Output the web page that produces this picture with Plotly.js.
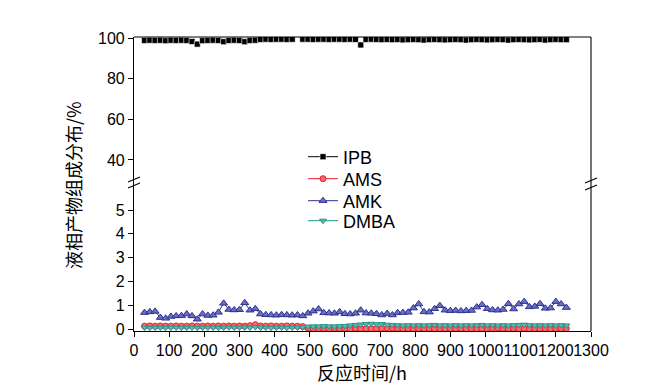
<!DOCTYPE html>
<html>
<head>
<meta charset="utf-8">
<script src="https://cdn.plot.ly/plotly-3.0.1.min.js"></script>
<style>html,body{margin:0;padding:0;background:#fff;}#chart{width:663px;height:389px;}</style>
</head>
<body>
<div id="chart"></div>
<script>
// Reaction time (h)
const timeH = [30,45,60,75,90,105,120,135,150,165,180,195,210,225,240,255,270,285,300,315,
  330,345,360,375,390,405,420,435,450,465,480,495,510,525,540,555,570,585,600,615,
  630,645,660,675,690,705,720,735,750,765,780,795,810,825,840,855,870,885,900,915,
  930,945,960,975,990,1005,1020,1035,1050,1065,1080,1095,1110,1125,1140,1155,1170,1185,1200,1215,1230];

const ipb = [98.8,98.9,98.8,98.9,98.7,98.9,98.8,98.9,98.8,98.3,97.0,98.7,98.8,98.9,98.8,98.2,98.8,98.9,98.8,98.2,
  98.8,98.9,99.3,99.4,99.3,99.4,99.4,99.3,99.4,null,99.4,99.4,99.3,99.4,99.4,99.3,99.4,99.4,99.3,99.4,
  99.3,96.6,99.3,99.4,99.3,99.2,99.3,99.2,99.3,99.1,99.2,99.3,99.2,99.0,99.2,99.3,99.2,99.1,99.2,99.3,
  99.2,99.0,99.2,99.3,99.2,99.1,99.2,99.3,99.2,99.0,99.2,99.3,99.2,99.1,99.2,99.3,99.0,99.2,99.3,99.2,99.2];

const ams = [0.12,0.13,0.12,0.13,0.12,0.12,0.13,0.12,0.12,0.13,0.12,0.12,0.13,0.12,0.13,0.12,0.13,0.12,0.13,0.12,
  0.14,0.18,0.13,0.12,0.13,0.12,0.12,0.13,0.12,0.12,0.10,0.03,0.02,0.01,0.02,0.01,0.02,0.01,0.02,0.01,
  0.02,0.01,0.02,0.01,0.02,0.03,0.04,0.04,0.02,0.01,0.02,0.01,0.02,0.01,0.02,0.01,0.02,0.01,0.02,0.01,
  0.02,0.01,0.02,0.01,0.02,0.01,0.03,0.04,0.02,0.01,0.02,0.01,0.02,0.01,0.02,0.01,0.02,0.01,0.02,0.01,0.02];

const amk = [0.69,0.72,0.74,0.48,0.45,0.53,0.55,0.56,0.63,0.55,0.41,0.63,0.57,0.58,0.70,1.08,0.82,0.80,0.81,1.10,
  0.79,0.85,0.63,0.60,0.59,0.58,0.60,0.59,0.58,0.59,0.55,0.66,0.75,0.84,0.68,0.67,0.66,0.72,0.64,0.63,
  0.66,0.79,0.67,0.66,0.64,0.59,0.65,0.59,0.68,0.69,0.70,0.88,1.05,0.72,0.71,0.85,0.98,0.79,0.77,0.78,
  0.76,0.77,0.78,0.92,1.02,0.85,0.80,0.79,0.82,1.06,0.84,1.05,1.15,0.93,0.95,1.06,0.87,0.88,1.15,1.05,0.90];

const dmba = [0.06,0.05,0.06,0.06,0.05,0.06,0.06,0.05,0.06,0.06,0.05,0.06,0.06,0.06,0.05,0.06,0.07,0.06,0.06,0.07,
  0.06,0.08,0.06,0.06,0.05,0.06,0.06,0.05,0.06,0.06,0.07,0.10,0.11,0.11,0.12,0.11,0.11,0.12,0.13,0.15,
  0.17,0.19,0.21,0.22,0.20,0.21,0.18,0.17,0.16,0.15,0.16,0.15,0.16,0.15,0.16,0.17,0.15,0.16,0.15,0.16,
  0.15,0.16,0.15,0.16,0.17,0.15,0.16,0.15,0.16,0.15,0.16,0.17,0.18,0.16,0.15,0.16,0.15,0.16,0.15,0.16,0.15];

const seriesNames = ['IPB','AMS','AMK','DMBA'];
const lowerTicks = [0,1,2,3,4,5];
const upperTicks = [40,60,80,100];
const xTicks = [0,100,200,300,400,500,600,700,800,900,1000,1100,1200,1300];

const traces = [
  {x: timeH, y: ipb, name: seriesNames[0], yaxis: 'y2', mode: 'lines+markers', legend: 'legend',
   line: {color: '#000', width: 1}, marker: {symbol: 'square', size: 6, color: '#000', line: {color: '#fff', width: 0.6}}},
  {x: timeH, y: ams, name: seriesNames[1], yaxis: 'y', mode: 'lines+markers', legend: 'legend2',
   line: {color: '#ed1c24', width: 1}, marker: {symbol: 'circle', size: 6, color: '#f36a6f', line: {color: '#ed1c24', width: 1}}},
  {x: timeH, y: amk, name: seriesNames[2], yaxis: 'y', mode: 'lines+markers', legend: 'legend3',
   line: {color: '#2e3192', width: 1}, marker: {symbol: 'triangle-up', size: 7, color: '#6a6ec0', line: {color: '#2e3192', width: 1}}},
  {x: timeH, y: dmba, name: seriesNames[3], yaxis: 'y', mode: 'lines+markers', legend: 'legend4',
   line: {color: '#1f968c', width: 1}, marker: {symbol: 'triangle-down', size: 6, color: '#5fb8ad', line: {color: '#1f968c', width: 1}}}
];

const W = 457, H = 294, L = 134, B = 331;
function px(xp){ return (xp - L) / W; }
function py(yp){ return (B - yp) / H; }
const blk = {color: '#000', width: 1.1};
const legFont = {family: 'Liberation Sans, Arial, sans-serif', size: 18, color: '#000'};
function leg(yc){ return {x: px(303), y: py(yc), xanchor: 'left', yanchor: 'middle', bgcolor: 'rgba(0,0,0,0)', font: legFont}; }

const layout = {
  width: 663, height: 389,
  margin: {l: 134, r: 72, t: 37, b: 58},
  paper_bgcolor: '#fff', plot_bgcolor: '#fff',
  font: {family: 'Liberation Sans, Arial, sans-serif', size: 16, color: '#000'},
  showlegend: true,
  legend: leg(157), legend2: leg(179), legend3: leg(201), legend4: leg(221),
  xaxis: {range: [0, 1300], tickvals: xTicks, ticks: 'outside', ticklen: 5, tickcolor: '#000', tickangle: 0,
    showline: true, linecolor: '#000', linewidth: 1.1, showgrid: false, zeroline: false, anchor: 'y',
    tickfont: {size: 16}},
  yaxis: {domain: [0, 0.507], range: [-0.084, 6.18], tickvals: lowerTicks, ticks: 'outside', ticklen: 5,
    tickcolor: '#000', showline: true, linecolor: '#000', linewidth: 1.1, showgrid: false, zeroline: false,
    tickfont: {size: 16}},
  yaxis2: {domain: [0.507, 1], range: [29.2, 100.5], tickvals: upperTicks, ticks: 'outside', ticklen: 5,
    tickcolor: '#000', showline: true, linecolor: '#000', linewidth: 1.1, showgrid: false, zeroline: false,
    anchor: 'x', tickfont: {size: 16}},
  shapes: [
    {type: 'line', xref: 'paper', yref: 'paper', x0: 0, x1: 1, y0: 1, y1: 1, line: blk},
    {type: 'line', xref: 'paper', yref: 'paper', x0: 1, x1: 1, y0: 0, y1: 1, line: blk},
    {type: 'line', xref: 'paper', yref: 'paper', x0: px(128), x1: px(140), y0: py(182), y1: py(177), line: blk},
    {type: 'line', xref: 'paper', yref: 'paper', x0: px(128), x1: px(140), y0: py(188), y1: py(183), line: blk},
    {type: 'line', xref: 'paper', yref: 'paper', x0: px(585), x1: px(597), y0: py(183), y1: py(178), line: blk},
    {type: 'line', xref: 'paper', yref: 'paper', x0: px(585), x1: px(597), y0: py(190), y1: py(185), line: blk}
  ],
  annotations: [
    {text: '液相产物组成分布/%', xref: 'paper', yref: 'paper', x: px(73), y: py(185), textangle: -90,
     showarrow: false, xanchor: 'center', yanchor: 'middle',
     font: {family: 'Noto Sans CJK SC, Liberation Sans, sans-serif', size: 18, color: '#000'}},
    {text: '反应时间/h', xref: 'paper', yref: 'paper', x: px(362), y: py(372),
     showarrow: false, xanchor: 'center', yanchor: 'middle',
     font: {family: 'Noto Sans CJK SC, Liberation Sans, sans-serif', size: 18, color: '#000'}}
  ]
};

Plotly.newPlot('chart', traces, layout, {displayModeBar: false, staticPlot: true});
</script>
</body>
</html>
